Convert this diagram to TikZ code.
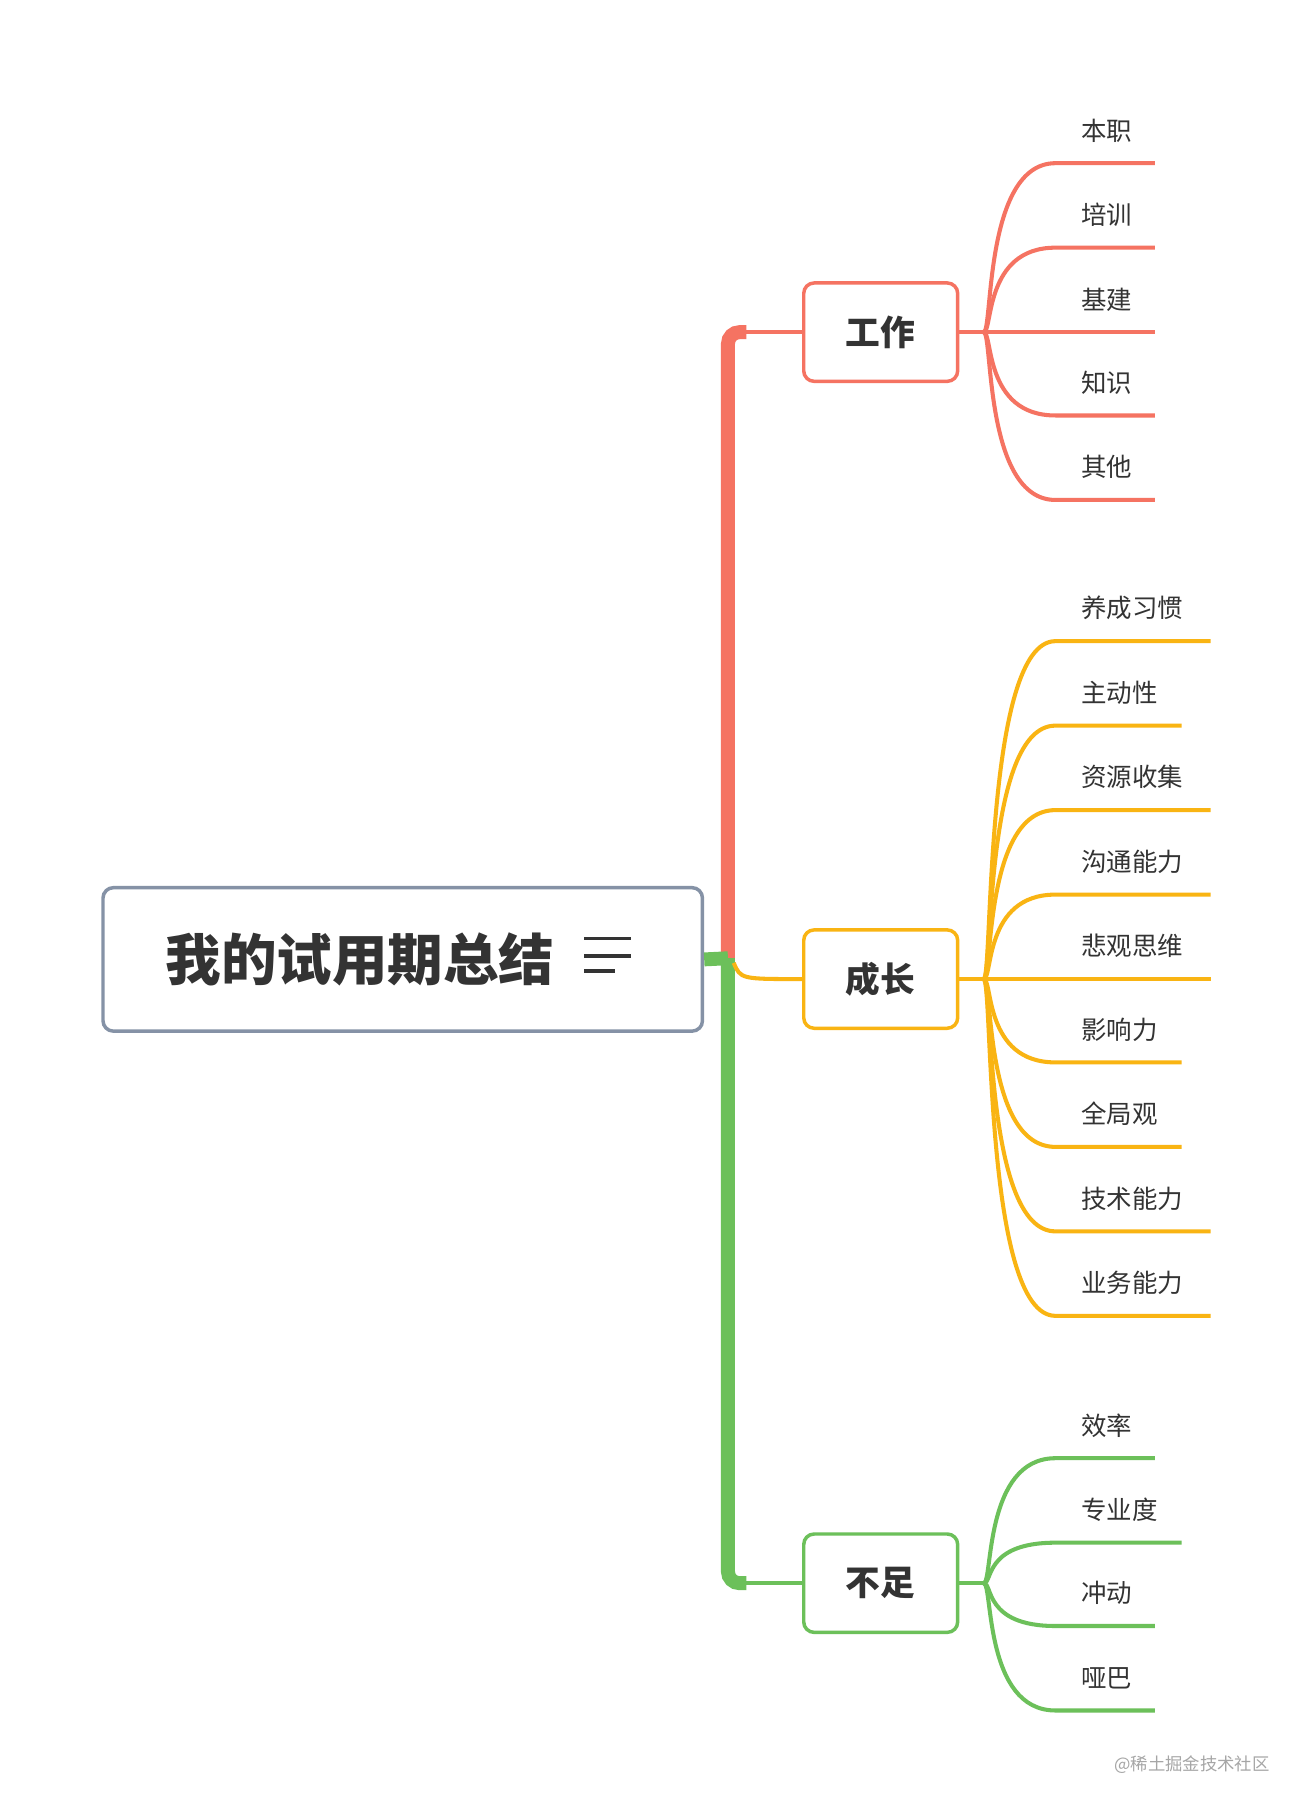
\documentclass[tikz,border=0pt]{standalone}
\usepackage{fontspec}
\setmainfont{Noto Sans CJK SC}
\definecolor{cwork}{HTML}{F57362}
\definecolor{cgrow}{HTML}{F9B413}
\definecolor{clack}{HTML}{6CC05A}
\definecolor{croot}{HTML}{8592A6}
\definecolor{ctext}{HTML}{333333}
\tikzset{
  box/.style={draw=#1,line width=3pt,rounded corners=9pt,fill=white,
    minimum width=133pt,minimum height=85pt,text=ctext,font=\fontsize{30}{30}\selectfont\bfseries},
  leaf/.style={anchor=south west,inner sep=0pt,text=ctext,font=\fontsize{22}{22}\selectfont},
  twig/.style={draw=#1,line width=3.5pt}
}
\begin{document}
\begin{tikzpicture}[x=1pt,y=-1pt]
  \useasboundingbox (0,0) rectangle (1130,1564);
  \fill[white] (0,0) rectangle (1130,1564);

  % trunk
  \draw[cwork,line width=12pt,rounded corners=10pt] (629,828) -- (629,287) -- (645,287);
  \draw[clack,line width=12pt,rounded corners=10pt] (629,828) -- (629,1368) -- (645,1368);
  \node[box=croot,minimum width=518pt,minimum height=124pt,inner xsep=0pt,font=\fontsize{48}{48}\selectfont\bfseries] (root) at (348,829) {\makebox[410pt][l]{我的试用期总结}};
  \draw[clack,line width=12pt] (root.east) -- (629,828);
  \foreach \dy/\len in {-15/40,0/40,13/26}
    \draw[ctext,line width=3pt] (505,826+\dy) -- ++(\len,0);

  % branches
  \node[box=cwork] (work) at (761,287) {工作};
  \node[box=cgrow] (grow) at (761,846) {成长};
  \node[box=clack] (lack) at (761,1368) {不足};
  \draw[twig=cwork] (work.west) -- (640,287);
  \draw[twig=cgrow] (634,832) .. controls (640,846) .. (grow.west);
  \draw[twig=clack] (lack.west) -- (640,1368);

  % leaves
  \coordinate (hw) at (850,287);
  \draw[twig=cwork] (work.east) -- (hw);
  \foreach \y/\t/\e [count=\i] in {141/本职/998,214/培训/998,287/基建/998,359/知识/998,432/其他/998}{
    \coordinate (w\i) at (\e,\y);
    \draw[twig=cwork] (hw) .. controls (858,287) and (850,\y) .. (912,\y) -- (w\i);
    \node[leaf] (wt\i) at (934,\y-18) {\t};
  }
  \coordinate (hg) at (850,846);
  \draw[twig=cgrow] (grow.east) -- (hg);
  \foreach \y/\t/\e [count=\i] in {554/养成习惯/1046,627/主动性/1021,700/资源收集/1046,773/沟通能力/1046,846/悲观思维/1046,918/影响力/1021,991/全局观/1021,1064/技术能力/1046,1137/业务能力/1046}{
    \coordinate (g\i) at (\e,\y);
    \draw[twig=cgrow] (hg) .. controls (858,846) and (850,\y) .. (912,\y) -- (g\i);
    \node[leaf] (gt\i) at (934,\y-18) {\t};
  }
  \coordinate (hl) at (850,1368);
  \draw[twig=clack] (lack.east) -- (hl);
  \foreach \y/\t/\e [count=\i] in {1260/效率/998,1333/专业度/1021,1405/冲动/998,1478/哑巴/998}{
    \coordinate (l\i) at (\e,\y);
    \draw[twig=clack] (hl) .. controls (858,1368) and (850,\y) .. (912,\y) -- (l\i);
    \node[leaf] (lt\i) at (934,\y-18) {\t};
  }

  \node[text=gray!70,font=\fontsize{15}{15}\selectfont] (mark) at (1030,1525) {@稀土掘金技术社区};
\end{tikzpicture}
\end{document}
